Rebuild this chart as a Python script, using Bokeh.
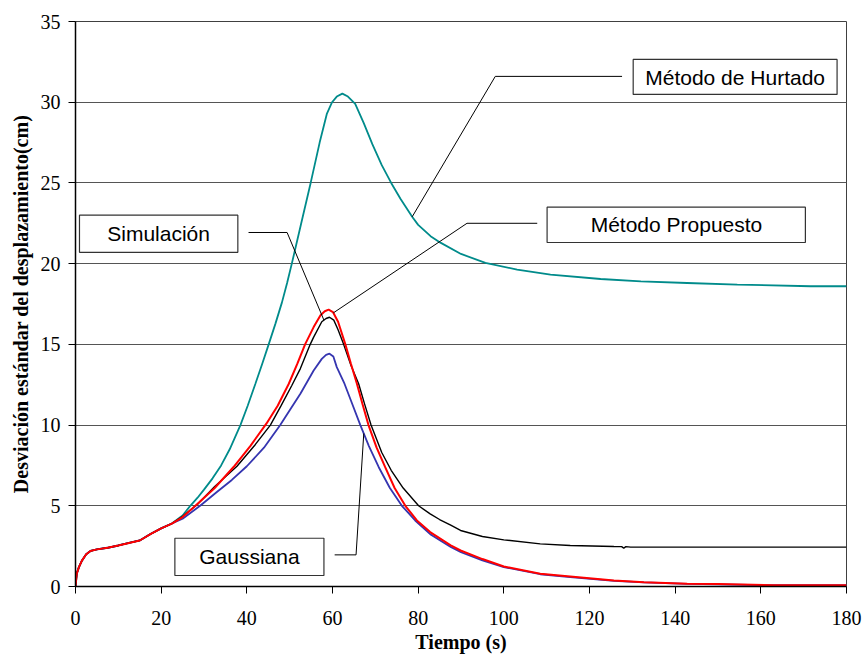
import numpy as np
from bokeh.plotting import figure
from bokeh.models import FixedTicker, Range1d
from bokeh.core.properties import value
from bokeh.embed import file_html
from bokeh.resources import INLINE

# ---------------- data ----------------
x_ticks = [0, 20, 40, 60, 80, 100, 120, 140, 160, 180]
y_ticks = [0, 5, 10, 15, 20, 25, 30, 35]

# common initial section (all methods coincide)
t_start = [0, 0.3, 0.8, 1.5, 2.5, 3.5, 5, 7.5, 10, 12.5, 15, 17.5, 20, 22.5]
v_start = [0, 0.8, 1.2, 1.6, 2.0, 2.2, 2.3, 2.4, 2.54, 2.7, 2.85, 3.25, 3.6, 3.9]

# Método de Hurtado (teal)
t_hurtado = [25, 26.8, 28.5, 30, 32, 34, 36, 38.5, 40.2, 42, 43.6, 45.1, 46.7, 48.2,
             49.4, 50.5, 52.7, 54.9, 57, 58.7, 59.9, 61, 62.3, 63.6, 65.3, 67.3, 69.3,
             71.5, 73.7, 75.9, 78.6, 80, 82.9, 85.2, 90, 95.7, 103.1, 110.9, 122.6,
             132, 142.8, 154.5, 171.6, 180]
v_hurtado = [4.4, 5.0, 5.5, 6.0, 6.7, 7.5, 8.5, 10, 11.2, 12.56, 13.8, 15, 16.3, 17.6,
             18.8, 20, 22.5, 25, 27.5, 29.3, 30.0, 30.35, 30.53, 30.35, 29.9, 28.7, 27.4,
             26.1, 25.0, 24.0, 22.9, 22.4, 21.7, 21.3, 20.6, 20.05, 19.63, 19.32, 19.05,
             18.9, 18.8, 18.7, 18.6, 18.6]

# Gaussiana (blue)
t_gauss = [25, 29.1, 33, 36.5, 40, 44, 47.8, 50.2, 52.5, 55.6, 57.5, 58.5, 59.3, 60.2,
           61, 62.8, 64.3, 66.5, 68.5, 70.8, 73.4, 76.2, 79.3, 83, 87.6, 90, 95, 100,
           108.5, 115.5, 125.7, 132.7, 142.8, 163, 180]
v_gauss = [4.2, 5.0, 5.85, 6.6, 7.45, 8.6, 10, 11.0, 11.94, 13.38, 14.1, 14.35, 14.42, 14.25,
           13.59, 12.56, 11.52, 10, 8.7, 7.39, 6.1, 5.0, 4.09, 3.2, 2.45, 2.12, 1.62, 1.2,
           0.76, 0.58, 0.35, 0.25, 0.16, 0.08, 0.08]

# Simulación (black)
t_sim = [25, 28.5, 32.5, 37.7, 42, 45.5, 48, 50.5, 52.5, 54.8, 55.6, 57.5, 58.5, 59.3,
         60.3, 61.3, 62.6, 64.3, 66.1, 67.5, 69, 71.5, 73.7, 76.5, 80.1, 82.8, 85,
         87.6, 89.9, 95, 100, 108.5, 115.5, 125.7, 127.5, 128, 128.5, 129.6, 180]
v_sim = [4.35, 5.1, 6.2, 7.45, 8.8, 10, 11.2, 12.45, 13.5, 15, 15.45, 16.4, 16.6, 16.68,
         16.5, 15.9, 15.0, 13.7, 12.56, 11.3, 10, 8.3, 7.2, 6.1, 5.0, 4.5, 4.15,
         3.8, 3.47, 3.1, 2.89, 2.64, 2.54, 2.48, 2.47, 2.38, 2.47, 2.44, 2.44]

# Método Propuesto (red)
t_prop = [25, 28, 32.5, 36.9, 40.8, 44.6, 47.2, 49.8, 51.8, 53.6, 55.6, 57.2, 58.2, 59.1,
          60.1, 61.3, 63, 64.3, 65.7, 67, 68.4, 70.3, 72.3, 74.5, 77, 79.7, 82.8,
          87.6, 89.9, 95, 100, 108.5, 115.5, 125.7, 132.7, 142.8, 150, 163, 180]
v_prop = [4.3, 5.0, 6.1, 7.4, 8.7, 10.1, 11.2, 12.56, 13.8, 15, 16.07, 16.8, 17.05, 17.15,
          17.0, 16.4, 15, 13.8, 12.56, 11.3, 10, 8.6, 7.39, 6.1, 5.0, 4.09, 3.37,
          2.55, 2.23, 1.7, 1.24, 0.79, 0.62, 0.37, 0.27, 0.17, 0.15, 0.08, 0.08]

labels = ["Método de Hurtado", "Método Propuesto", "Simulación", "Gaussiana"]

# ---------------- figure ----------------
p = figure(width=862, height=655, output_backend="svg", toolbar_location=None,
           x_range=Range1d(0, 180), y_range=Range1d(0, 35),
           min_border_left=75, min_border_right=16, min_border_top=21,
           min_border_bottom=69)
p.background_fill_color = "white"
p.border_fill_color = "white"
p.outline_line_color = "#404040"
p.outline_line_width = 1

p.xgrid.visible = False
p.ygrid.grid_line_color = "#555555"
p.ygrid.grid_line_width = 1
p.ygrid.ticker = FixedTicker(ticks=y_ticks)

for ax in (p.xaxis[0], p.yaxis[0]):
    ax.axis_line_color = "black"
    ax.axis_line_width = 1.5
    ax.major_tick_line_color = "black"
    ax.major_tick_out = 7
    ax.major_tick_in = 0
    ax.minor_tick_line_color = None
    ax.major_label_text_font = "Liberation Serif"
    ax.major_label_text_font_size = "20px"
    ax.major_label_text_color = "black"
    ax.axis_label_text_font = "Liberation Serif"
    ax.axis_label_text_font_style = "bold"
    ax.axis_label_text_font_size = "20px"
    ax.axis_label_text_color = "black"

p.xaxis.ticker = FixedTicker(ticks=x_ticks)
p.yaxis.ticker = FixedTicker(ticks=y_ticks)
p.xaxis.axis_label = "Tiempo (s)"
p.yaxis.axis_label = "Desviación estándar del desplazamiento(cm)"
p.xaxis.major_label_standoff = 17
p.xaxis.axis_label_standoff = 3
p.yaxis.major_label_standoff = 8
p.yaxis.axis_label_standoff = 6

def full(t, v):
    return list(t_start) + list(t), list(v_start) + list(v)

series = [
    (t_hurtado, v_hurtado, "#008B8B", 1.8),
    (t_gauss, v_gauss, "#3535B0", 1.8),
    (t_sim, v_sim, "black", 1.4),
    (t_prop, v_prop, "red", 2.0),
]
curves = []
for t, v, col, w in series:
    tx, vy = full(t, v)
    curves.append((tx, vy))
    p.line(tx, vy, line_color=col, line_width=w)

# ---------------- callout labels ----------------
# box: (left, right, bottom, top), text center, leader start, elbow, curve index, curve t
callouts = [
    ((130.2, 177.8, 30.48, 32.65), (154.0, 31.55), (127.6, 31.6), (98.0, 31.6), 0, 78.6),
    ((110.1, 170.4, 21.31, 23.5), (140.3, 22.4), (107.8, 22.5), (91.4, 22.5), 3, 60.2),
    ((0.93, 37.9, 20.7, 23.0), (19.4, 21.85), (40.4, 21.93), (49.4, 21.93), 2, 58.0),
    ((23.2, 58.0, 0.68, 2.99), (40.6, 1.83), (60.5, 1.96), (65.5, 1.96), 1, 67.3),
]
for (box, tc, s, e, ci, ct), lab in zip(callouts, labels):
    tx, vy = curves[ci]
    endv = float(np.interp(ct, tx, vy))
    p.line([s[0], e[0], ct], [s[1], e[1], endv], line_color="black", line_width=1)
    p.quad(left=[box[0]], right=[box[1]], bottom=[box[2]], top=[box[3]],
           fill_color="white", line_color="#333333", line_width=1.2)
    p.text(x=[tc[0]], y=[tc[1]], text=[lab], text_align="center",
           text_baseline="middle", text_font=value("Liberation Sans"),
           text_font_size="21px", text_color="black")

open("out.html", "w").write(file_html(p, INLINE))
